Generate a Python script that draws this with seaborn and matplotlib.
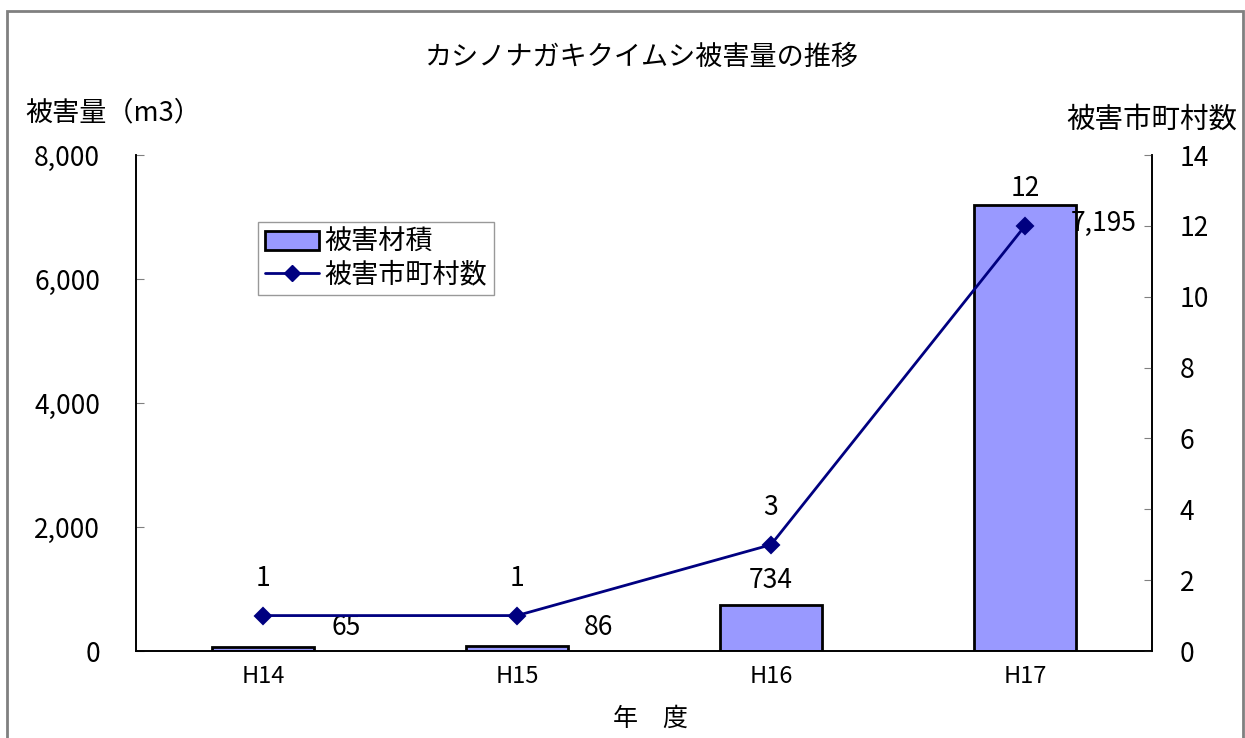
import numpy as np
import pandas as pd
import matplotlib
matplotlib.use("Agg")
import matplotlib.pyplot as plt
import seaborn as sns
from matplotlib.patches import Patch, Rectangle
from matplotlib.lines import Line2D

# data
years = ["H14", "H15", "H16", "H17"]
damage_volume = [65, 86, 734, 7195]
damage_towns = [1, 1, 3, 12]

bar_color = "#9999FF"
line_color = "#000080"

sns.set_style("white")
plt.rcParams["font.family"] = ["Noto Sans CJK JP", "DejaVu Sans"]
plt.rcParams["text.color"] = "black"
plt.rcParams["xtick.color"] = "black"
plt.rcParams["ytick.color"] = "black"

df = pd.DataFrame({"year": years, "volume": damage_volume, "towns": damage_towns})

W, H = 1245, 738
fig = plt.figure(figsize=(W / 100, H / 100), dpi=100)
ax = fig.add_axes([136 / W, 1 - 651 / H, (1152 - 136) / W, (651 - 155) / H])

sns.barplot(data=df, x="year", y="volume", ax=ax, color=bar_color,
            edgecolor="black", linewidth=2, width=0.4, saturation=1)
ax.set_ylim(0, 8000)
ax.set_xlim(-0.5, 3.5)
ax.set_yticks(np.arange(0, 8001, 2000))
ax.set_yticklabels([f"{v:,}" for v in range(0, 8001, 2000)])
ax.set_xlabel("")
ax.set_ylabel("")

ax2 = ax.twinx()
sns.pointplot(data=df, x="year", y="towns", ax=ax2, color=line_color,
              markers="D", markersize=8, linewidth=2)
ax2.set_ylim(0, 14)
ax2.set_xlim(-0.5, 3.5)
ax2.set_yticks(np.arange(0, 15, 2))
ax2.set_ylabel("")
ax2.set_xlabel("")

# spines / ticks
for a in (ax, ax2):
    a.spines["top"].set_visible(False)
    for s in ["left", "right", "bottom"]:
        a.spines[s].set_color("black")
        a.spines[s].set_linewidth(1.2)
ax.tick_params(axis="y", direction="in", length=6, color="gray", labelsize=19, pad=26,
               labelcolor="black")
ax2.tick_params(axis="y", direction="in", length=6, color="gray", labelsize=19, pad=20,
                labelcolor="black")
ax.set_xticks(range(len(years)))
ax.set_xticklabels(years)
ax.tick_params(axis="x", which="major", length=0, labelsize=17, pad=10, labelcolor="black")
ax.set_xticks([-0.5, 0.5, 1.5, 2.5, 3.5], minor=True)
ax.tick_params(axis="x", which="minor", direction="in", length=8, color="gray")

# labels on bars
bar_offsets = [(83, 19), (81, 18), (0, 25), (79, -19)]
for i, v in enumerate(damage_volume):
    ax.annotate(f"{v:,}", (i, v), xytext=bar_offsets[i], textcoords="offset pixels",
                ha="center", va="center", fontsize=19)

# labels on line
for i, v in enumerate(damage_towns):
    ax2.annotate(str(v), (i, v), xytext=(0, 37), textcoords="offset pixels",
                 ha="center", va="center", fontsize=19)

# texts
fig.text(641 / W, 1 - 57 / H, "カシノナガキクイムシ被害量の推移", ha="center", va="center", fontsize=19.5)
fig.text(25 / W, 1 - 113 / H, "被害量（m3）", ha="left", va="center", fontsize=19.5)
fig.text(1237 / W, 1 - 120 / H, "被害市町村数", ha="right", va="center", fontsize=20.5)
fig.text(650 / W, 1 - 719 / H, "年　度", ha="center", va="center", fontsize=18)

# legend
handles = [
    Patch(facecolor=bar_color, edgecolor="black", linewidth=2),
    Line2D([], [], color=line_color, marker="D", markersize=8, linewidth=2),
]
leg = fig.legend(handles, ["被害材積", "被害市町村数"], loc="upper left",
                 bbox_to_anchor=(258 / W, 1 - 222 / H), bbox_transform=fig.transFigure,
                 borderaxespad=0, fancybox=False, edgecolor="gray", fontsize=19.5,
                 handlelength=2.0, handletextpad=0.2, borderpad=0.25, labelspacing=0.2)
leg.get_frame().set_linewidth(1)

# outer border
fig.patches.append(Rectangle((7 / W, -0.01), (1243 - 7) / W, 1 - 11 / H + 0.01,
                             transform=fig.transFigure, fill=False,
                             edgecolor="gray", linewidth=2))

fig.savefig("out.png", dpi=100)
